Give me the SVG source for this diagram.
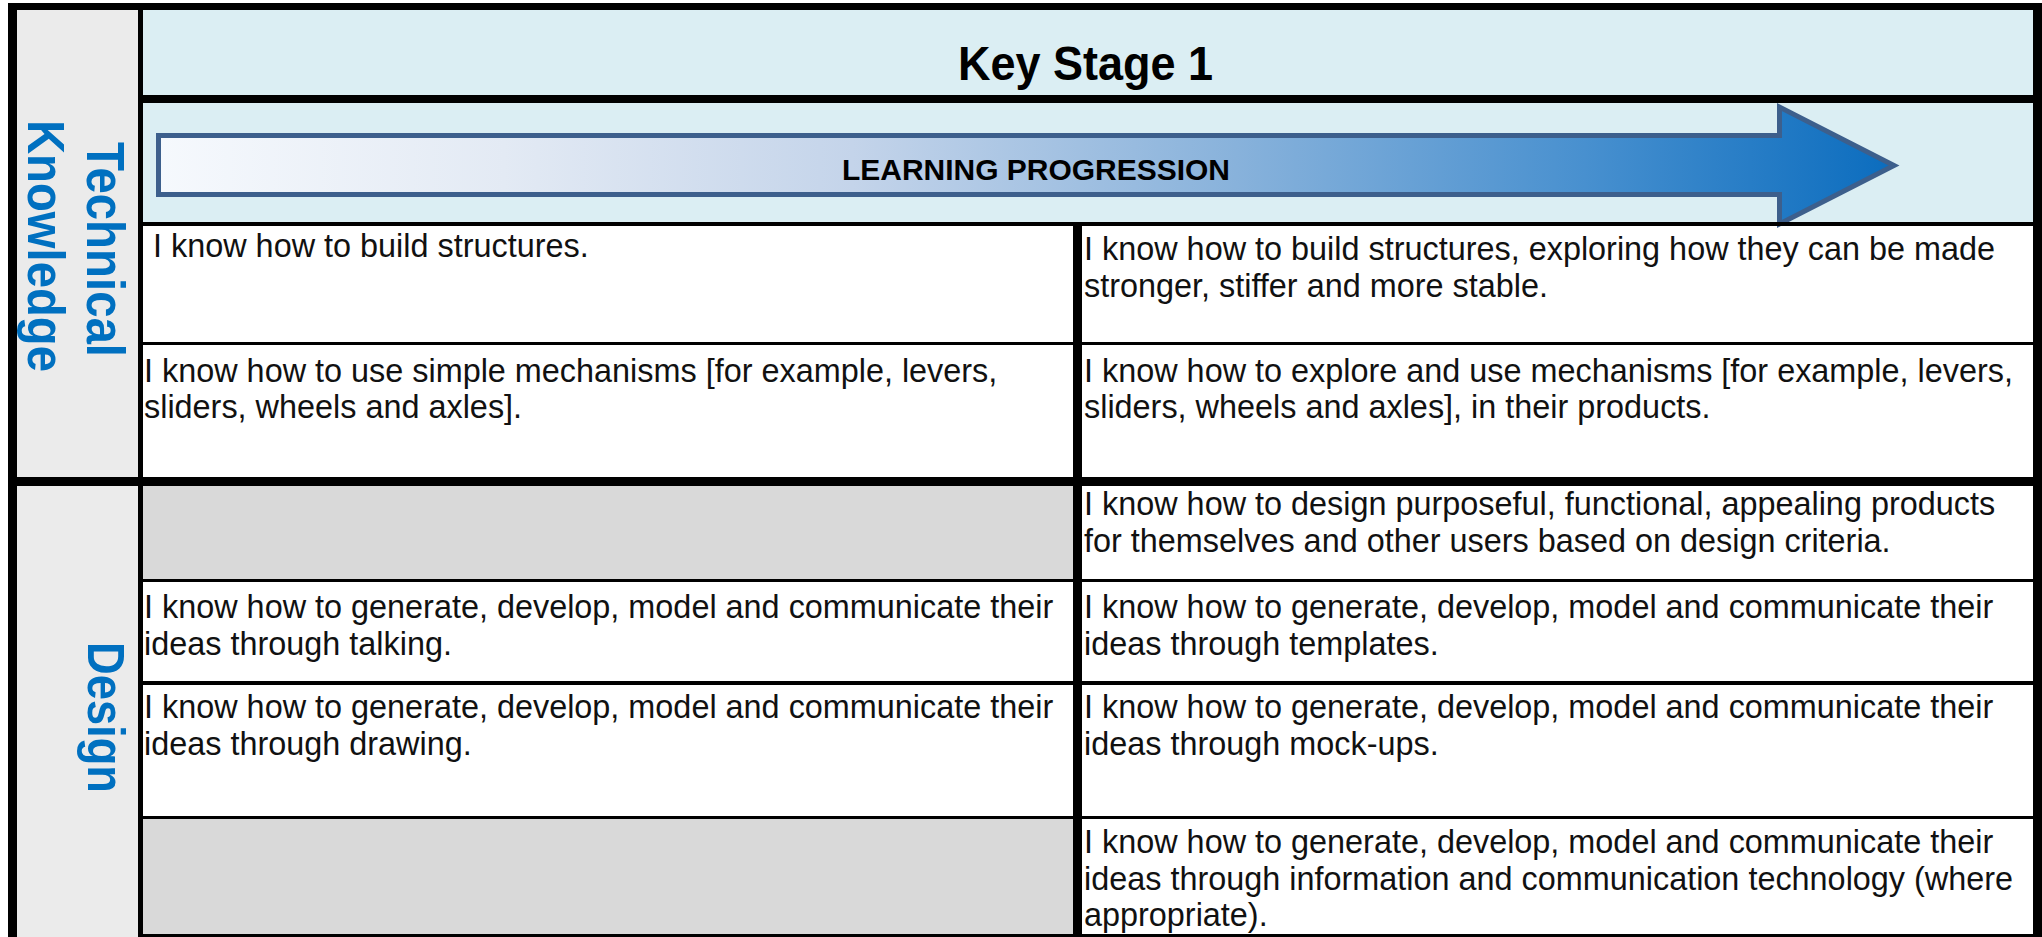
<svg xmlns="http://www.w3.org/2000/svg" width="2042" height="937" viewBox="0 0 2042 937">
<defs>
<linearGradient id="arrowGrad" gradientUnits="userSpaceOnUse" x1="156" y1="0" x2="1898" y2="0">
<stop offset="0" stop-color="#F6F9FD"/>
<stop offset="0.2" stop-color="#E3EAF4"/>
<stop offset="0.4" stop-color="#C4D4EA"/>
<stop offset="0.62" stop-color="#88B2DB"/>
<stop offset="0.82" stop-color="#4890CF"/>
<stop offset="1" stop-color="#0A6CBE"/>
</linearGradient>
<style>
.body{font-family:"Liberation Sans",Arial,sans-serif;font-size:32.4px;fill:#111111;}
.side{font-family:"Liberation Sans",Arial,sans-serif;font-weight:bold;fill:#0070C0;}
.head{font-family:"Liberation Sans",Arial,sans-serif;font-weight:bold;fill:#000000;}
.blk{fill:#000000;}
</style>
</defs>
<rect x="0" y="0" width="2042" height="937" fill="#ffffff"/>

<g id="side-technical">
<rect x="17" y="10" width="121" height="467" fill="#EBEBEB"/>
<text class="side" font-size="54" text-anchor="middle" textLength="215" lengthAdjust="spacingAndGlyphs" transform="translate(87,249.5) rotate(90)">Technical</text>
<text class="side" font-size="52" text-anchor="middle" textLength="252" lengthAdjust="spacingAndGlyphs" transform="translate(28,246) rotate(90)">Knowledge</text>
</g>
<g id="side-design">
<rect x="17" y="486" width="121" height="451" fill="#EBEBEB"/>
<text class="side" font-size="52" text-anchor="middle" textLength="151" lengthAdjust="spacingAndGlyphs" transform="translate(88,717.5) rotate(90)">Design</text>
</g>

<g id="header">
<rect x="143" y="10" width="1890" height="85" fill="#DBEEF3"/>
<text class="head" x="958" y="80" font-size="48" textLength="255" lengthAdjust="spacingAndGlyphs">Key Stage 1</text>
</g>

<g id="progression">
<rect x="143" y="103" width="1890" height="119" fill="#DBEEF3"/>
<polygon points="158.5,135.5 1779.5,135.5 1779.5,107 1894,165.5 1779.5,224 1779.5,194.5 158.5,194.5" fill="url(#arrowGrad)" stroke="#3D5F8C" stroke-width="5" stroke-linejoin="miter"/>
<text class="head" x="842" y="180" font-size="30" textLength="388" lengthAdjust="spacingAndGlyphs">LEARNING PROGRESSION</text>
</g>

<g id="tk-row1-left"><text class="body" x="153" y="257">I know how to build structures.</text></g>
<g id="tk-row1-right"><text class="body" x="1084" y="260">I know how to build structures, exploring how they can be made</text><text class="body" x="1084" y="297">stronger, stiffer and more stable.</text></g>
<g id="tk-row2-left"><text class="body" x="144" y="382">I know how to use simple mechanisms [for example, levers,</text><text class="body" x="144" y="418">sliders, wheels and axles].</text></g>
<g id="tk-row2-right"><text class="body" x="1084" y="382">I know how to explore and use mechanisms [for example, levers,</text><text class="body" x="1084" y="418">sliders, wheels and axles], in their products.</text></g>

<g id="d-row1-left"><rect x="143" y="486" width="930" height="94" fill="#D9D9D9"/></g>
<g id="d-row1-right"><text class="body" x="1084" y="515">I know how to design purposeful, functional, appealing products</text><text class="body" x="1084" y="552">for themselves and other users based on design criteria.</text></g>
<g id="d-row2-left"><text class="body" x="144" y="618">I know how to generate, develop, model and communicate their</text><text class="body" x="144" y="655">ideas through talking.</text></g>
<g id="d-row2-right"><text class="body" x="1084" y="618">I know how to generate, develop, model and communicate their</text><text class="body" x="1084" y="655">ideas through templates.</text></g>
<g id="d-row3-left"><text class="body" x="144" y="718">I know how to generate, develop, model and communicate their</text><text class="body" x="144" y="755">ideas through drawing.</text></g>
<g id="d-row3-right"><text class="body" x="1084" y="718">I know how to generate, develop, model and communicate their</text><text class="body" x="1084" y="755">ideas through mock-ups.</text></g>
<g id="d-row4-left"><rect x="143" y="818" width="930" height="117" fill="#D9D9D9"/></g>
<g id="d-row4-right"><text class="body" x="1084" y="853">I know how to generate, develop, model and communicate their</text><text class="body" x="1084" y="890">ideas through information and communication technology (where</text><text class="body" x="1084" y="926">appropriate).</text></g>

<g id="grid">
<rect class="blk" x="8" y="3" width="2034" height="7"/>
<rect class="blk" x="8" y="3" width="9" height="934"/>
<rect class="blk" x="2033" y="3" width="9" height="934"/>
<rect class="blk" x="138" y="10" width="5" height="927"/>
<rect class="blk" x="138" y="95" width="1895" height="8"/>
<rect class="blk" x="138" y="222" width="1895" height="4"/>
<rect class="blk" x="143" y="342" width="1890" height="3"/>
<rect class="blk" x="8" y="477" width="2034" height="9"/>
<rect class="blk" x="143" y="579" width="1890" height="3"/>
<rect class="blk" x="143" y="681" width="1890" height="4"/>
<rect class="blk" x="143" y="816" width="1890" height="3"/>
<rect class="blk" x="143" y="934" width="1890" height="3"/>
<rect class="blk" x="1073" y="222" width="9" height="715"/>
</g>
</svg>
